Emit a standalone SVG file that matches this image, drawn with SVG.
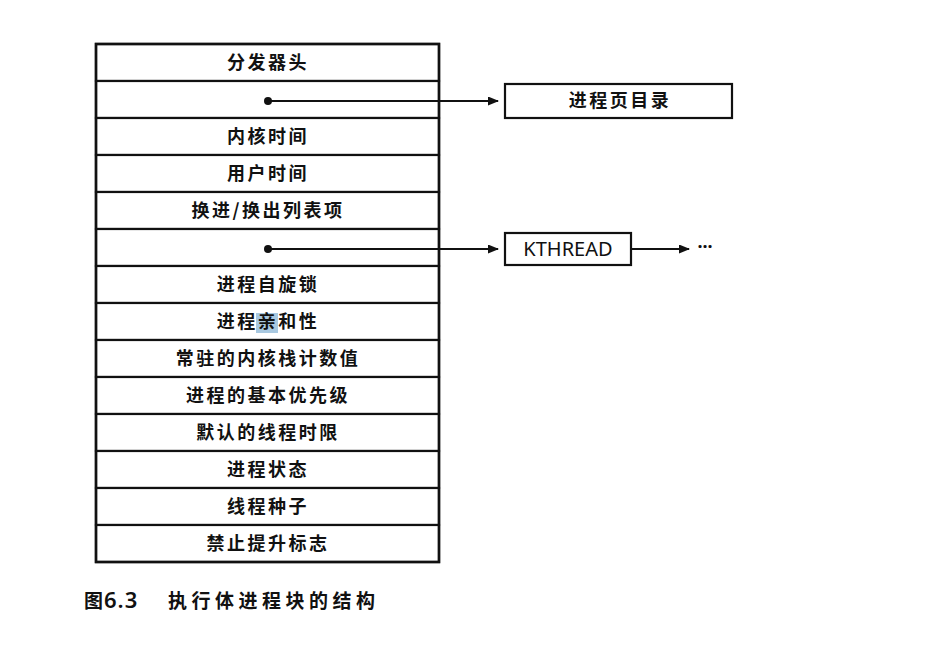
<svg xmlns="http://www.w3.org/2000/svg" width="938" height="650" viewBox="0 0 938 650">
<style>
.cell{fill:#fff;stroke:#111;stroke-width:2.2}
.t{font-family:"Noto Sans CJK SC","Noto Sans",sans-serif;font-size:18px;font-weight:bold;fill:#111;text-anchor:middle;letter-spacing:2.5px}
.k{font-family:"Noto Sans","Liberation Sans",sans-serif;font-size:20px;fill:#111;text-anchor:middle}
.c{font-family:"Noto Sans CJK SC","Noto Sans",sans-serif;font-size:19px;font-weight:bold;fill:#111}
.conn{stroke:#111;stroke-width:2;fill:none}
</style>
<defs>
<marker id="ah" markerWidth="11" markerHeight="9" refX="10" refY="4.5" orient="auto" markerUnits="userSpaceOnUse">
<path d="M0,0 L11,4.5 L0,9 z" fill="#111"/>
</marker>
</defs>
<rect width="938" height="650" fill="#fff"/>
<g id="eprocess">
<g id="row1"><rect class="cell" x="96" y="44" width="343" height="37"/><text class="t" x="268" y="69">分发器头</text></g>
<g id="row2"><rect class="cell" x="96" y="81" width="343" height="37"/></g>
<g id="row3"><rect class="cell" x="96" y="118" width="343" height="37"/><text class="t" x="268" y="143">内核时间</text></g>
<g id="row4"><rect class="cell" x="96" y="155" width="343" height="37"/><text class="t" x="268" y="180">用户时间</text></g>
<g id="row5"><rect class="cell" x="96" y="192" width="343" height="37"/><text class="t" x="268" y="217">换进/换出列表项</text></g>
<g id="row6"><rect class="cell" x="96" y="229" width="343" height="37"/></g>
<g id="row7"><rect class="cell" x="96" y="266" width="343" height="37"/><text class="t" x="268" y="291">进程自旋锁</text></g>
<g id="row8"><rect class="cell" x="96" y="303" width="343" height="37"/><rect x="256" y="313" width="22" height="20" fill="#a8c8e0"/><text class="t" x="268" y="328">进程亲和性</text></g>
<g id="row9"><rect class="cell" x="96" y="340" width="343" height="37"/><text class="t" x="268" y="365">常驻的内核栈计数值</text></g>
<g id="row10"><rect class="cell" x="96" y="377" width="343" height="37"/><text class="t" x="268" y="402">进程的基本优先级</text></g>
<g id="row11"><rect class="cell" x="96" y="414" width="343" height="37"/><text class="t" x="268" y="439">默认的线程时限</text></g>
<g id="row12"><rect class="cell" x="96" y="451" width="343" height="37"/><text class="t" x="268" y="476">进程状态</text></g>
<g id="row13"><rect class="cell" x="96" y="488" width="343" height="37"/><text class="t" x="268" y="513">线程种子</text></g>
<g id="row14"><rect class="cell" x="96" y="525" width="343" height="37"/><text class="t" x="268" y="550">禁止提升标志</text></g>
<rect x="96" y="44" width="343" height="518" fill="none" stroke="#111" stroke-width="2.6"/>
</g>
<g id="pagedir"><rect x="505" y="84" width="227" height="34" fill="#fff" stroke="#111" stroke-width="2.2"/><text class="t" x="620" y="107">进程页目录</text></g>
<g id="kthread"><rect x="505" y="233" width="126" height="32" fill="#fff" stroke="#111" stroke-width="2.2"/><text class="k" x="568" y="256">KTHREAD</text></g>
<g id="connectors">
<circle cx="268" cy="101" r="4" fill="#111"/>
<line class="conn" x1="268" y1="101" x2="498" y2="101" marker-end="url(#ah)"/>
<circle cx="268" cy="249" r="4" fill="#111"/>
<line class="conn" x1="268" y1="249" x2="498" y2="249" marker-end="url(#ah)"/>
<line class="conn" x1="631" y1="249" x2="689" y2="249" marker-end="url(#ah)"/>
<text class="k" x="705" y="253" style="font-weight:bold;font-size:18px">···</text>
</g>
<g id="caption">
<text class="c" x="84" y="608">图</text>
<text x="104" y="608" style="font-family:'Noto Sans','Liberation Sans',sans-serif;font-weight:600;font-size:22px;letter-spacing:1px;fill:#111">6.3</text>
<text class="c" x="168" y="608" style="letter-spacing:4.5px">执行体进程块的结构</text>
</g>
</svg>
